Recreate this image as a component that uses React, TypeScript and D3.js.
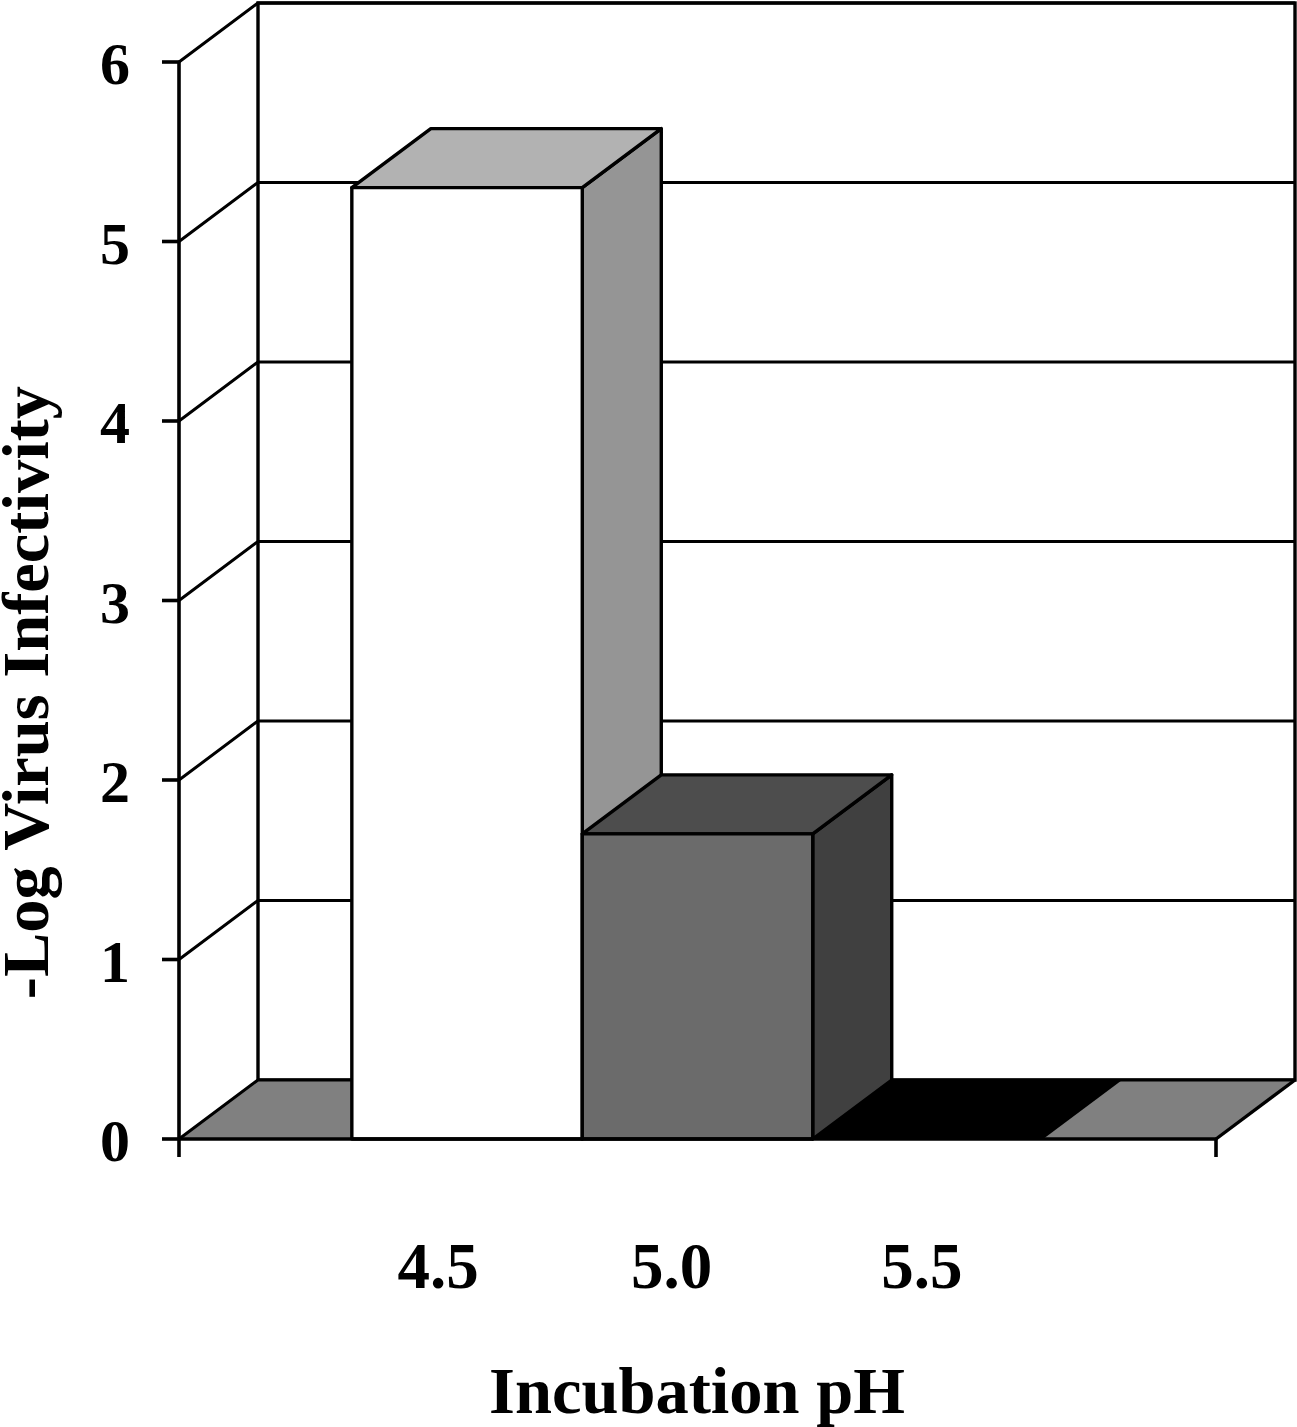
import React from "react";
import * as d3 from "d3";

const series = ["4.5", "5.0", "5.5"];
const values = [5.3, 1.7, 0];
const yTicks = [0, 1, 2, 3, 4, 5, 6];
const frontColors = ["#ffffff", "#6b6b6b", "#000000"];
const topColors = ["#b2b2b2", "#4d4d4d", "#000000"];
const sideColors = ["#959595", "#404040", "#000000"];
const labelNudge = [-29, -26, -6];

const W = 1297, H = 1427;
const DX = 79, DY = -59;
const FONT = "'Liberation Serif', 'Times New Roman', serif";

const y = d3.scaleLinear().domain([0, 6]).range([1139, 62]);
const x = d3.scaleBand<string>().domain(series).range([179, 1216]).paddingInner(0).paddingOuter(0.75);
const pts = (p: number[][]) => p.map((q) => q.join(",")).join(" ");

export default function App() {
  const x0 = x.range()[0], x1 = x.range()[1];
  const y0 = y(0), yMax = y(6);
  const line = d3.line();
  return (
    <svg width={W} height={H} style={{ position: "absolute", left: 0, top: 0, display: "block", background: "#fff" }}>
      <rect x={x0 + DX} y={yMax + DY} width={x1 - x0} height={y0 - yMax} fill="#fff" stroke="#000" strokeWidth={3.4} />
      <polygon points={pts([[x0, y0], [x0 + DX, y0 + DY], [x1 + DX, y0 + DY], [x1, y0]])} fill="#808080" stroke="none" />
      {yTicks.map((t) => (
        <path key={t} d={line([[x0, y(t)], [x0 + DX, y(t) + DY], [x1 + DX, y(t) + DY]]) || ""} fill="none" stroke="#000" strokeWidth={3} />
      ))}
      <path d={line([[x1, y0], [x1 + DX, y0 + DY]]) || ""} stroke="#000" strokeWidth={3.4} fill="none" />
      {series.map((s, i) => {
        const l = x(s)!, r = l + x.bandwidth(), t = y(values[i]);
        if (values[i] === 0) {
          return (
            <polygon key={s} points={pts([[l, y0], [l + DX, y0 + DY], [r + DX, y0 + DY], [r, y0]])} fill={frontColors[i]} />
          );
        }
        return (
          <g key={s} stroke="#000" strokeWidth={3.4} strokeLinejoin="round">
            <polygon points={pts([[r, t], [r + DX, t + DY], [r + DX, y0 + DY], [r, y0]])} fill={sideColors[i]} />
            <polygon points={pts([[l, t], [l + DX, t + DY], [r + DX, t + DY], [r, t]])} fill={topColors[i]} />
            <rect x={l} y={t} width={r - l} height={y0 - t} fill={frontColors[i]} />
          </g>
        );
      })}
      <g stroke="#000" strokeWidth={3.6} fill="none">
        <line x1={x0} y1={yMax} x2={x0} y2={y0 + 18} />
        <line x1={x0} y1={y0} x2={x1} y2={y0} />
        <line x1={x1} y1={y0} x2={x1} y2={y0 + 18} />
        {yTicks.map((t) => (
          <line key={t} x1={x0 - 17} y1={y(t)} x2={x0} y2={y(t)} />
        ))}
      </g>
      <g fontFamily={FONT} fontWeight="bold" fill="#000">
        {yTicks.map((t) => (
          <text key={t} x={130} y={y(t) + 22} fontSize={60} textAnchor="end">{t}</text>
        ))}
        {series.map((s, i) => (
          <text key={s} x={x(s)! + x.bandwidth() / 2 + labelNudge[i]} y={1288} fontSize={65} textAnchor="middle">{s}</text>
        ))}
        <text x={697} y={1413} fontSize={66.5} textAnchor="middle">Incubation pH</text>
        <text transform="translate(48,692.5) rotate(-90)" fontSize={66.5} textAnchor="middle">-Log Virus Infectivity</text>
      </g>
    </svg>
  );
}
